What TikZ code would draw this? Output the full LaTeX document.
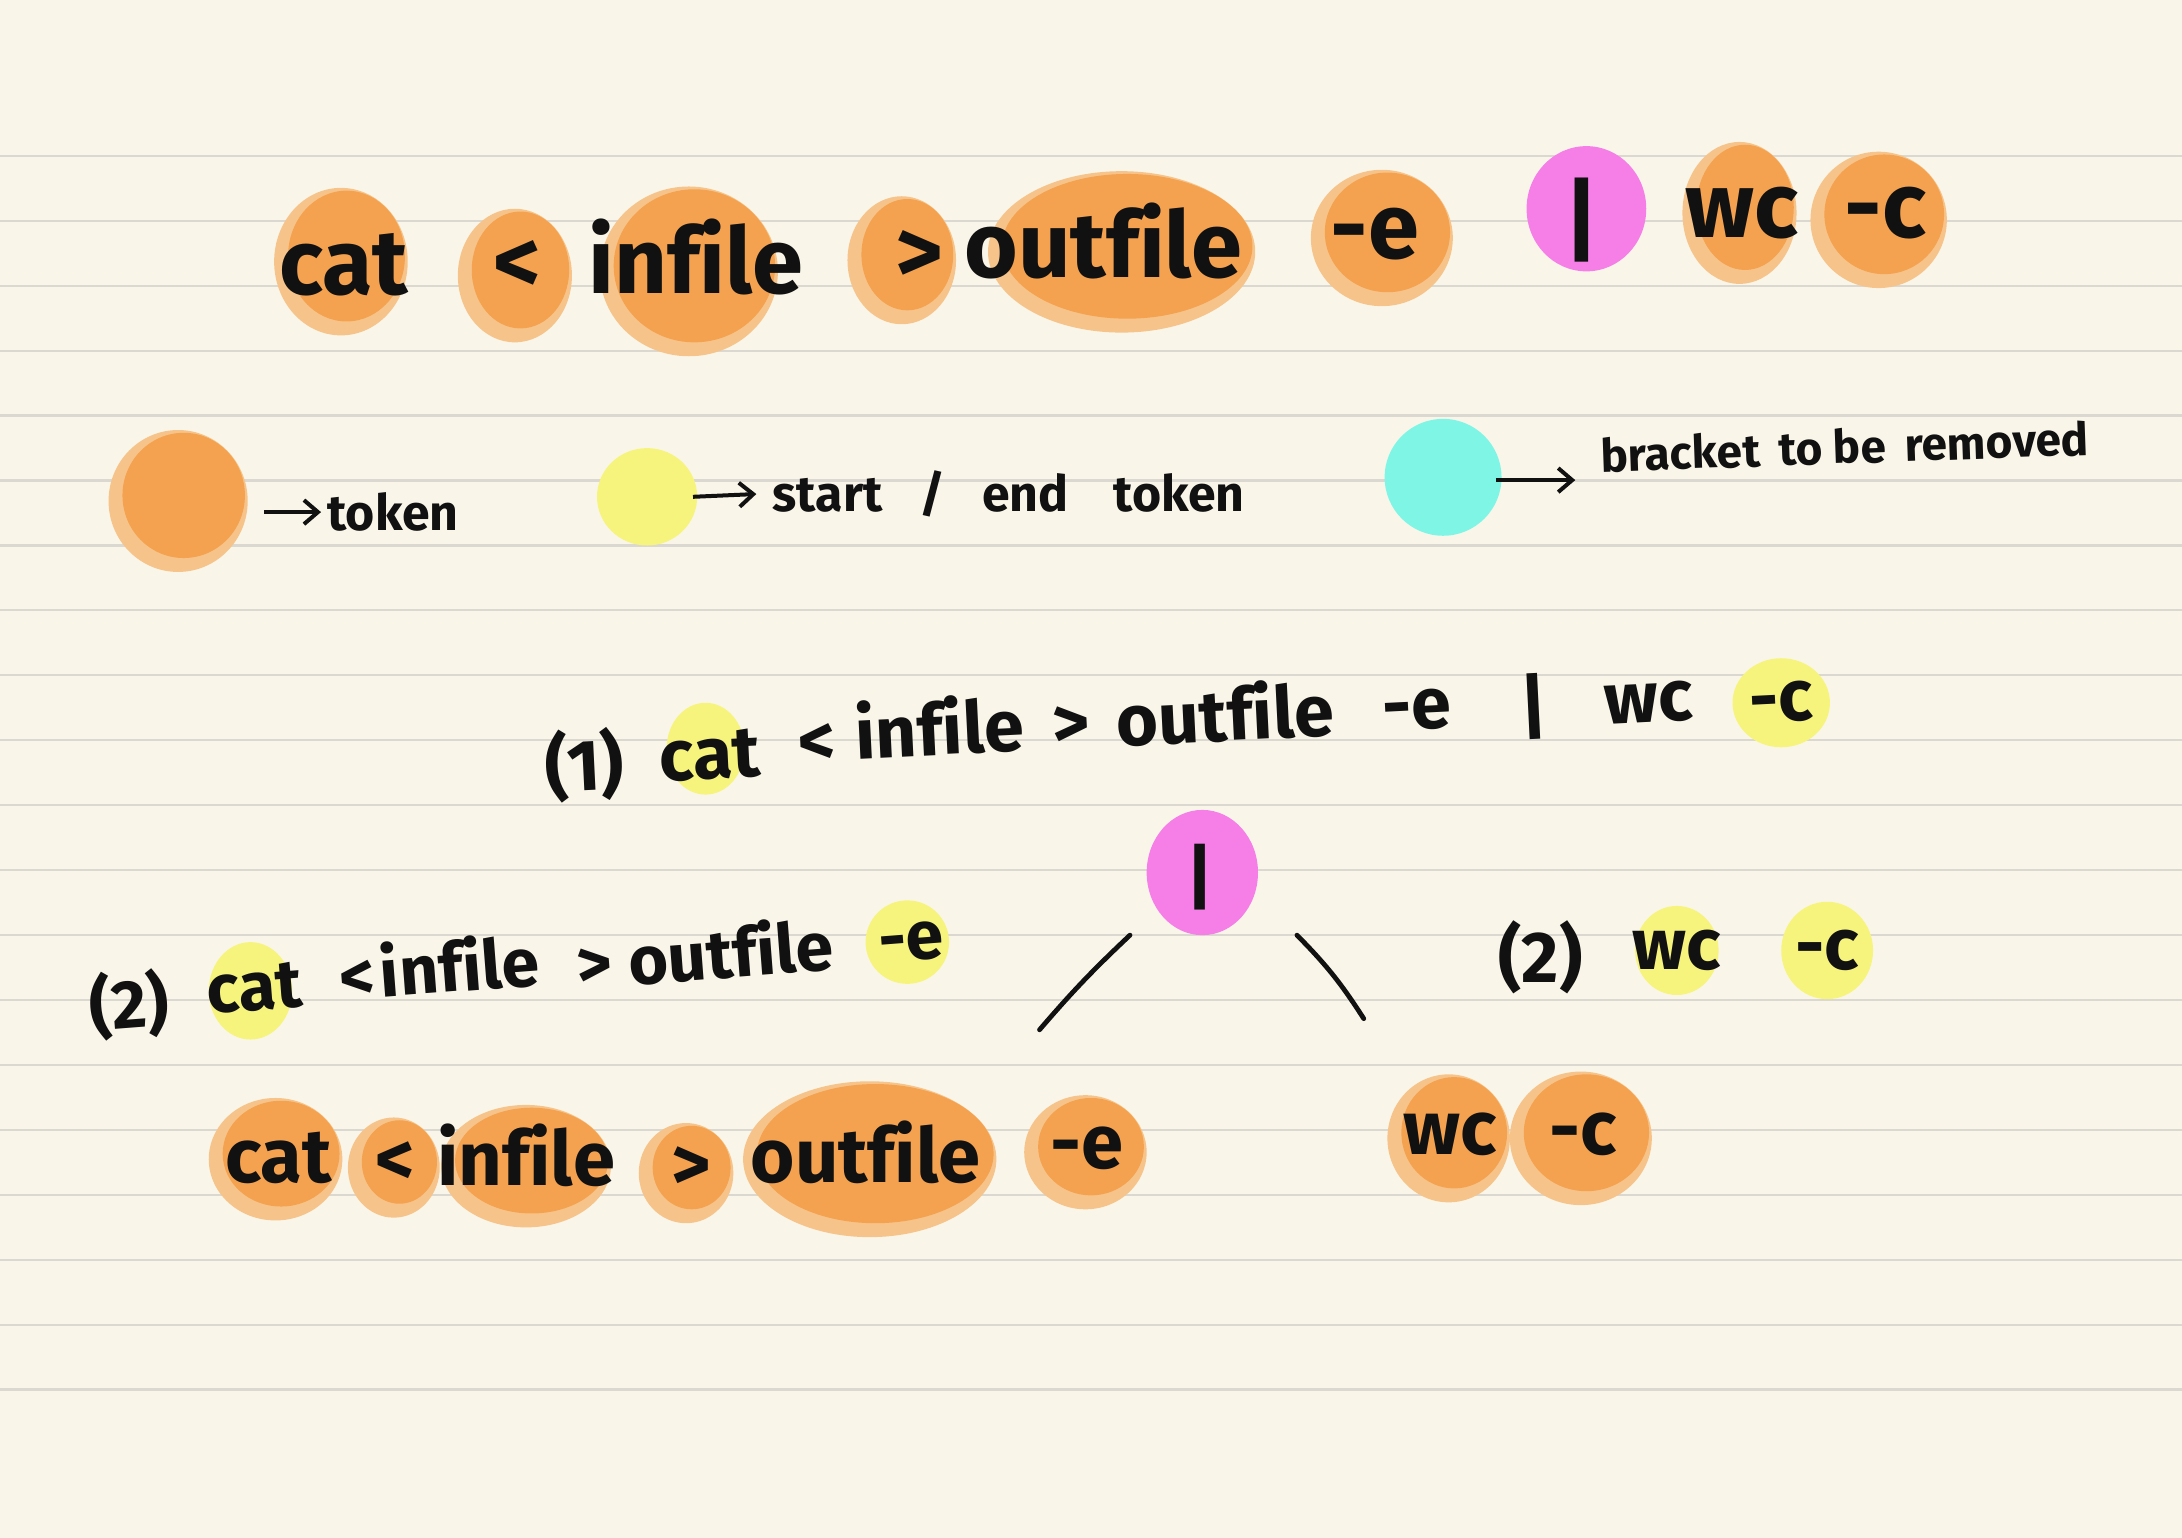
\documentclass[tikz,border=0pt]{standalone}
\usepackage{fontspec}
\setmainfont{Fira Sans}[Ligatures=CommonOff]
\usetikzlibrary{arrows.meta}
\definecolor{paper}{HTML}{F9F6E9}
\definecolor{ruleC}{HTML}{DAD8D0}
\definecolor{orD}{HTML}{F4A24F}
\definecolor{orL}{HTML}{F6C48A}
\definecolor{pinkB}{HTML}{F57FE6}
\definecolor{yelB}{HTML}{F6F47C}
\definecolor{cyanB}{HTML}{7FF5E6}
\definecolor{ink}{HTML}{111111}
\newcommand\oblob[4]{%
  \fill[orL] ({#1-2},{#2+3}) ellipse [x radius={#3+6}, y radius={#4+6}];
  \fill[orD] ({#1+2},{#2-1}) ellipse [x radius={#3}, y radius={#4}];}
\newcommand\yblob[4]{\fill[yelB] (#1,#2) ellipse [x radius={#3}, y radius={#4}];}
\begin{document}
\begin{tikzpicture}[x=0.6958pt,y=-0.6958pt,
  every node/.style={text=ink, inner sep=0pt},
  big/.style={font=\fontsize{46}{50}\selectfont\bfseries},
  mid/.style={font=\fontsize{36}{40}\selectfont\bfseries},
  sml/.style={font=\fontsize{34}{38}\selectfont\bfseries},
  bot/.style={font=\fontsize{38}{42}\selectfont\bfseries},
  leg/.style={font=\fontsize{25}{30}\selectfont\bfseries},
  legb/.style={font=\fontsize{23}{28}\selectfont\bfseries},
  stroke/.style={ink, line width=2.4pt, line cap=round},
  legarrow/.style={ink, line width=2pt, -{Straight Barb[length=7pt,width=12pt]}}]
\fill[paper] (0,0) rectangle (1568,1105);
\useasboundingbox (0,0) rectangle (1568,1105);
\foreach \i in {0,...,19} \draw[ruleC, line width=1.1pt] (0,{112+46.66*\i}) -- (1568,{112+46.66*\i});

% ---- top row ----
\oblob{247}{185}{42}{47}
\oblob{372}{195}{35}{42}
\oblob{497}{192}{58}{55}
\oblob{650}{184}{33}{40}
\oblob{808}{178}{90}{52}
\oblob{995}{168}{45}{43}
\fill[pinkB] (1140,150) ellipse [x radius=43, y radius=45];
\oblob{1252}{150}{35}{45}
\oblob{1352}{155}{43}{43}
\node[big] (c1) at (247,190) {cat};
\node[big] (lt1) at (372,192) {<};
\node[big] (in1) at (500,185) {infile};
\node[big] (gt1) at (661,185) {>};
\node[big] (out1) at (793,173) {outfile};
\node[big] (e1) at (988,168) {-e};
\node[big] (pipe1) at (1137,158) {|};
\node[big] (wc1) at (1252,153) {wc};
\node[big] (cc1) at (1355,153) {-c};

% ---- legend ----
\oblob{130}{357}{44}{45}
\yblob{465}{357}{36}{35}
\fill[cyanB] (1037,343) ellipse [x radius=42, y radius=42];
\node[leg, anchor=west] (ltok) at (235,368) {token};
\node[leg, anchor=west] (lse) at (555,355) {start\,\,\, /\,\,\, end\,\,\,\, token};
\node[legb, anchor=west, rotate=2] (lbr) at (1150,327) {bracket\, to be\, removed};
\coordinate (a1) at (190,368);
\coordinate (a2) at (498,357);
\coordinate (a3) at (1075,345);
\coordinate (a3e) at (1132,345);
\draw[legarrow] (a1) -- ([xshift=-3pt]ltok.west);
\draw[legarrow] (a2) -- ([xshift=-8pt]lse.west);
\draw[legarrow] (a3) -- (a3e);

% ---- line (1) ----
\yblob{507}{538}{28}{33}
\yblob{1280}{505}{35}{32}
\begin{scope}[every node/.append style={mid, rotate=2.8}]
\node (p1) at (420,550) {(1)};
\node (c2) at (510,543) {cat};
\node (lt2) at (587,535) {<};
\node (in2) at (675,522) {infile};
\node (gt2) at (770,522) {>};
\node (out2) at (880,512) {outfile};
\node (e2) at (1018,510) {-e};
\node (pipe2) at (1102,508) {|};
\node (wc2) at (1185,505) {wc};
\node (cc2) at (1280,505) {-c};
\end{scope}

% ---- tree root ----
\fill[pinkB] (864,627) ellipse [x radius=40, y radius=45];
\node[mid] (root) at (862,630) {|};
\coordinate (la) at (812,672);
\coordinate (lb) at (747,740);
\coordinate (ra) at (932,672);
\coordinate (rb) at (980,732);
\draw[stroke] (la) to[bend right=3] (lb);
\draw[stroke] (ra) to[bend left=6] (rb);

% ---- left (2) ----
\yblob{180}{712}{30}{35}
\yblob{652}{677}{30}{30}
\begin{scope}[every node/.append style={sml, rotate=4.4}]
\node (p3) at (93,722) {(2)};
\node (c3) at (183,710) {cat};
\node (lt3) at (257,705) {<};
\node (in3) at (330,693) {infile};
\node (gt3) at (427,695) {>};
\node (out3) at (525,683) {outfile};
\node (e3) at (655,677) {-e};
\end{scope}

% ---- right (2) ----
\yblob{1205}{683}{30}{32}
\yblob{1313}{683}{33}{35}
\node[mid] (p4) at (1107,688) {(2)};
\node[mid] (wc4) at (1205,683) {wc};
\node[mid] (cc4) at (1313,683) {-c};

% ---- bottom left ----
\oblob{200}{830}{42}{38}
\oblob{285}{836}{27}{30}
\oblob{380}{835}{55}{38}
\oblob{495}{840}{28}{30}
\oblob{627}{830}{85}{50}
\oblob{782}{825}{38}{35}
\node[bot] (c5) at (200,832) {cat};
\node[bot] (lt5) at (284,836) {<};
\node[bot] (in5) at (378,830) {infile};
\node[bot] (gt5) at (497,840) {>};
\node[bot] (out5) at (622,828) {outfile};
\node[bot] (e5) at (781,825) {-e};

% ---- bottom right ----
\oblob{1043}{815}{38}{40}
\oblob{1138}{815}{45}{42}
\node[bot] (wc6) at (1042,815) {wc};
\node[bot] (cc6) at (1138,815) {-c};
\end{tikzpicture}
\end{document}
